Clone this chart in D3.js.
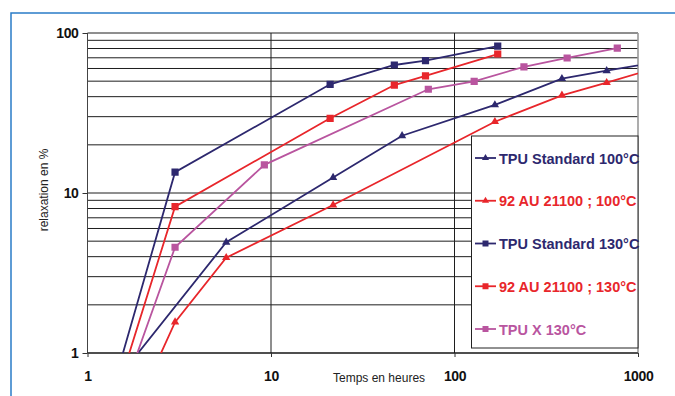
<!DOCTYPE html>
<html><head><meta charset="utf-8">
<script src="https://cdn.jsdelivr.net/npm/d3@7"></script>
<style>body{margin:0;background:#fff}svg{display:block}</style>
</head><body><svg id="c" width="675" height="396"></svg>
<script>
// ---- data ----
const seriesNames = ["TPU Standard 100°C", "92 AU 21100 ; 100°C", "TPU Standard 130°C", "92 AU 21100 ; 130°C", "TPU X 130°C"];
const seriesColors = ["#2d286e", "#e8262b", "#2d286e", "#e8262b", "#b9559f"];
const seriesMarkers = ["triangle", "triangle", "square", "square", "square"];

const tpuStd100Hours  = [1, 5.7, 21.8, 51.8, 166, 385, 675, 1500];
const tpuStd100Values = [0.40, 4.92, 12.5, 22.8, 35.5, 51.8, 58.1, 68];

const au100Hours  = [1, 3, 5.7, 21.8, 166, 385, 675, 1500];
const au100Values = [0.097, 1.56, 3.94, 8.41, 27.9, 40.8, 48.9, 64.3];

const tpuStd130Hours  = [1, 3, 21, 47, 69.5, 172];
const tpuStd130Values = [0.17, 13.5, 47.8, 63.1, 67.1, 82.9];

const au130Hours  = [1, 3, 21, 47, 69.5, 172];
const au130Values = [0.146, 8.21, 29.3, 47.3, 53.9, 73.9];

const tpuX130Hours  = [1, 3, 9.2, 72, 128, 239, 411, 771];
const tpuX130Values = [0.134, 4.58, 15, 44.5, 49.9, 61.5, 69.8, 80.5];

const xTicks = [1, 10, 100, 1000];
const yTicks = [1, 10, 100];
const yGridValues = [1,2,3,4,5,6,7,8,9,10,20,30,40,50,60,70,80,90,100];
const xLabel = "Temps en heures";
const yLabel = "relaxation en %";

const allHours = [tpuStd100Hours, au100Hours, tpuStd130Hours, au130Hours, tpuX130Hours];
const allValues = [tpuStd100Values, au100Values, tpuStd130Values, au130Values, tpuX130Values];

// ---- layout ----
const svg = d3.select("#c");
const L = 87.5, R = 638, T = 33, B = 353;
const x = d3.scaleLog().domain([1, 1000]).range([L, R]);
const y = d3.scaleLog().domain([1, 100]).range([B, T]);
const font = "'Liberation Sans', Arial, sans-serif";

// blue frame
svg.append("path").attr("d", `M11,396 L11,13 L675,13`)
  .attr("fill", "none").attr("stroke", "#2a7cc7").attr("stroke-width", 1.5);

// gridlines
svg.append("g").selectAll("line").data(yGridValues).join("line")
  .attr("x1", L).attr("x2", R).attr("y1", d => y(d)).attr("y2", d => y(d))
  .attr("stroke", "#1e1e1e").attr("stroke-width", 1);
svg.append("g").selectAll("line").data([10, 100]).join("line")
  .attr("x1", d => x(d)).attr("x2", d => x(d)).attr("y1", T).attr("y2", B)
  .attr("stroke", "#1e1e1e").attr("stroke-width", 1);
// plot right edge (gray)
svg.append("line").attr("x1", R).attr("x2", R).attr("y1", T).attr("y2", B)
  .attr("stroke", "#999").attr("stroke-width", 1.6);
// axis lines
svg.append("line").attr("x1", L).attr("x2", L).attr("y1", T).attr("y2", B)
  .attr("stroke", "#444").attr("stroke-width", 1);
svg.append("line").attr("x1", L).attr("x2", R).attr("y1", B).attr("y2", B)
  .attr("stroke", "#111").attr("stroke-width", 1.2);

// axes
const yAxis = d3.axisLeft(y).tickValues(yTicks).tickFormat(d3.format("d")).tickSize(5).tickPadding(4);
const gy = svg.append("g").attr("transform", `translate(${L},0)`).call(yAxis);
const xAxis = d3.axisBottom(x).tickValues(xTicks).tickFormat(d3.format("d")).tickSize(4).tickPadding(14);
const gx = svg.append("g").attr("transform", `translate(0,${B})`).call(xAxis);
[gx, gy].forEach(g => {
  g.select(".domain").remove();
  g.selectAll(".tick line").attr("stroke", "#333");
  g.selectAll(".tick text").attr("font-family", font).attr("font-weight", "bold")
    .attr("font-size", 14).attr("letter-spacing", "-0.4px").attr("fill", "#111");
});

// axis titles
svg.append("text").attr("x", 333).attr("y", 381.5).text(xLabel)
  .attr("font-family", font).attr("font-size", 12).attr("fill", "#222");
svg.append("text").attr("transform", "translate(48,190) rotate(-90)")
  .attr("text-anchor", "middle").text(yLabel)
  .attr("font-family", font).attr("font-size", 12).attr("fill", "#222");

// clip
svg.append("clipPath").attr("id", "plot").append("rect")
  .attr("x", L).attr("y", T).attr("width", R - L).attr("height", B - T);

const line = d3.line().x(d => x(d[0])).y(d => y(d[1]));
const sqSym = d3.symbol().type(d3.symbolSquare).size(52);
const triSym = d3.symbol().type(d3.symbolTriangle).size(30);
const sqSymL = d3.symbol().type(d3.symbolSquare).size(36);
const triSymL = d3.symbol().type(d3.symbolTriangle).size(22);

const series = seriesNames.map((name, i) => ({
  name, color: seriesColors[i], marker: seriesMarkers[i],
  pts: allHours[i].map((h, j) => [h, allValues[i][j]])
}));

const gs = svg.append("g").attr("clip-path", "url(#plot)");
series.forEach(s => {
  gs.append("path").attr("d", line(s.pts)).attr("fill", "none")
    .attr("stroke", s.color).attr("stroke-width", 1.8);
  gs.selectAll(null).data(s.pts.filter(p => p[0] >= 1 && p[0] <= 1000 && p[1] >= 1 && p[1] <= 100))
    .join("path")
    .attr("transform", p => `translate(${x(p[0])},${y(p[1])})`)
    .attr("d", s.marker === "square" ? sqSym : triSym)
    .attr("fill", s.color);
});

// legend
const lg = svg.append("g");
lg.append("rect").attr("x", 471.5).attr("y", 136).attr("width", 638 - 471.5).attr("height", 212)
  .attr("fill", "#fff").attr("stroke", "#222").attr("stroke-width", 1);
series.forEach((s, i) => {
  const cy = 158 + i * 42.75;
  lg.append("line").attr("x1", 475).attr("x2", 496).attr("y1", cy).attr("y2", cy)
    .attr("stroke", s.color).attr("stroke-width", 1.8);
  lg.append("path").attr("transform", `translate(485.5,${cy})`)
    .attr("d", s.marker === "square" ? sqSymL : triSymL).attr("fill", s.color);
  lg.append("text").attr("x", 499).attr("y", cy + 5.5).text(s.name)
    .attr("font-family", font).attr("font-weight", "bold").attr("font-size", 14.5)
    .attr("letter-spacing", "0px").attr("fill", s.color);
});
</script>
</body></html>
